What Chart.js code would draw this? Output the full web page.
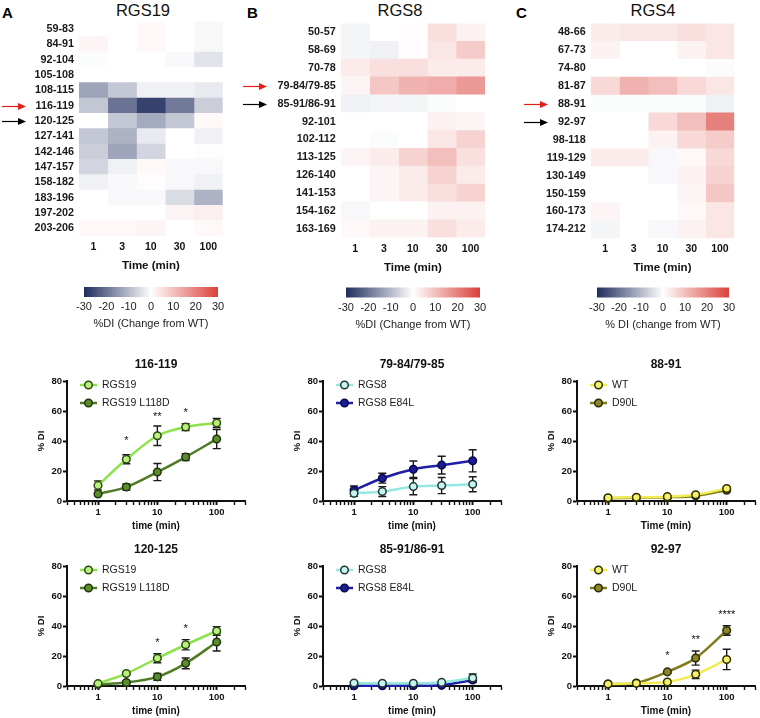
<!DOCTYPE html>
<html>
<head>
<meta charset="utf-8">
<script src="https://cdn.jsdelivr.net/npm/chart.js@4.4.1/dist/chart.umd.min.js"></script>
<style>
  body { margin: 0; background: #fff; width: 760px; height: 718px; position: relative; overflow: hidden;
         font-family: 'Liberation Sans', Arial, Helvetica, sans-serif; }
  canvas { position: absolute; }
  .letter { position: absolute; top: 5px; font: bold 15px/15px 'Liberation Sans', Arial, sans-serif; color: #000; }
  .htitle { position: absolute; top: 2px; width: 100px; text-align: center; font: 16.5px/16px 'Liberation Sans', Arial, sans-serif; color: #111; }
</style>
</head>
<body>
<div class="letter" style="left:2px">A</div>
<div class="letter" style="left:247px">B</div>
<div class="letter" style="left:516px">C</div>
<div class="htitle" style="left:93px">RGS19</div>
<div class="htitle" style="left:350px">RGS8</div>
<div class="htitle" style="left:603px">RGS4</div>

<canvas id="heatA"></canvas>
<canvas id="heatB"></canvas>
<canvas id="heatC"></canvas>
<canvas id="cbA"></canvas>
<canvas id="cbB"></canvas>
<canvas id="cbC"></canvas>
<canvas id="lineA1"></canvas>
<canvas id="lineB1"></canvas>
<canvas id="lineC1"></canvas>
<canvas id="lineA2"></canvas>
<canvas id="lineB2"></canvas>
<canvas id="lineC2"></canvas>

<script>
// ---- heatmap data (%DI change from WT), columns = time points ----
const timeLabels = ['1', '3', '10', '30', '100'];
const times = [1, 3, 10, 30, 100];

const rgs19Rows = ['59-83', '84-91', '92-104', '105-108', '108-115', '116-119', '120-125',
                   '127-141', '142-146', '147-157', '158-182', '183-196', '197-202', '203-206'];
const rgs19Heat = [
  [0, 0, 1, 0, -1],
  [1.5, 0, 1, 0, -1],
  [-0.5, 0, 0, -1, -4],
  [0, 0, 0, 0, 0],
  [-13, -8, -2, -2, -3],
  [-8, -20, -27, -19, -7],
  [0, -8, -12, -8, 1],
  [-8, -11, -3, 0, -2],
  [-7, -13, -6, 0, 0.5],
  [-6, -2, 1, -1, -1],
  [-2, -1, 0.5, -1, -2],
  [0, -1, -1, -5, -11],
  [0, 0, 0, 1.5, 2.5],
  [1, 1, 1.5, 0, 1]
];

const rgs8Rows = ['50-57', '58-69', '70-78', '79-84/79-85', '85-91/86-91', '92-101',
                  '102-112', '113-125', '126-140', '141-153', '154-162', '163-169'];
const rgs8Heat = [
  [-1.5, 0, 0.5, 5, 2],
  [-1.5, -2, 0.5, 4, 8],
  [3, 5, 5, 3, 3],
  [1.5, 9, 12, 13, 16],
  [-2, -1.5, -1.5, -0.5, 0],
  [0, 0, 0, 2, 1.5],
  [0, -0.5, 0, 4, 7],
  [1.5, 3, 7, 10, 5],
  [0, 1.5, 3, 7, 3],
  [0, 1.5, 3, 5, 7],
  [-1, 0, 0, 2, 2],
  [1, 2, 2, 5, 3]
];

const rgs4Rows = ['48-66', '67-73', '74-80', '81-87', '88-91', '92-97',
                  '98-118', '119-129', '130-149', '150-159', '160-173', '174-212'];
const rgs4Heat = [
  [3, 4, 4, 5, 4],
  [2, 0, 0, 2, 4],
  [0, 0, 0, 0, -0.5],
  [6, 12, 10, 6, 4],
  [-0.5, -0.5, -0.5, -0.5, -2],
  [0, 0, 6, 10, 20],
  [0, 0, 2, 6, 8],
  [3, 3, -1, 1, 6],
  [0, 0, -1, 2, 7],
  [0, 0, 0, 1.5, 9],
  [1.5, 0, 0, 1, 4],
  [-1.5, 0, -1, 2, 4]
];

const colorbarTicks = [-30, -20, -10, 0, 10, 20, 30];

// ---- time course data (% DI), mean and error per time point ----
const a1Wt = [10.4, 27.8, 43.5, 49.3, 52];
const a1WtErr = [3, 3, 6.5, 2.3, 3];
const a1Mut = [4.7, 9.3, 19.3, 29.3, 41.3];
const a1MutErr = [1, 2, 5.7, 2.3, 6.4];
const a1Stars = [null, '*', '**', '*', null];
const a1StarY = [null, 40, 56, 59, null];

const a2Wt = [1.6, 8.3, 18.5, 27.5, 36.7];
const a2WtErr = [0.8, 1, 3, 3.4, 2.9];
const a2Mut = [1.1, 2.3, 6.1, 15.1, 29.3];
const a2MutErr = [0.5, 1, 2.3, 3.6, 6];
const a2Stars = [null, null, '*', '*', null];
const a2StarY = [null, null, 28.6, 38, null];

const b1Wt = [5.1, 6.3, 9.6, 10.3, 11.2];
const b1WtErr = [2, 3.3, 5.4, 5.4, 5];
const b1Mut = [7.2, 15.2, 21.2, 23.9, 26.8];
const b1MutErr = [2.8, 3.3, 5.5, 5.9, 7.4];

const b2Wt = [2, 1.8, 1.8, 2.4, 5.3];
const b2WtErr = [0, 0, 0, 0, 2.7];
const b2Mut = [0.2, 0.2, 0.3, 0.5, 4];
const b2MutErr = [0, 0, 0, 0, 1.5];

const c1Wt = [2.2, 2.5, 2.9, 4.2, 8.3];
const c1WtErr = [0.5, 0.5, 0.5, 0.6, 0.8];
const c1Mut = [1.8, 2.2, 2.5, 3.4, 7.2];
const c1MutErr = [0.5, 0.5, 0.5, 0.6, 0.8];

const c2Wt = [1.3, 1.8, 2.7, 7.8, 17.7];
const c2WtErr = [0.5, 0.5, 0.5, 2.8, 6.8];
const c2Mut = [1.3, 2, 9.4, 18.6, 37];
const c2MutErr = [0.5, 0.5, 0.8, 4.7, 3.2];
const c2Stars = [null, null, '*', '**', '****'];
const c2StarY = [null, null, 20, 30.7, 47.5];

const majorTimeTicks = [1, 10, 100];

// ---- styling ----
const FONT = "'Liberation Sans', Arial, Helvetica, sans-serif";
Chart.defaults.font.family = FONT;
Chart.defaults.color = '#111';

const NEG_END = [31, 45, 94];
const POS_END = [218, 64, 58];

function heatColor(v) {
  const t = Math.min(Math.abs(v) / 30, 1);
  const end = v < 0 ? NEG_END : POS_END;
  const c = end.map(e => Math.round(255 + (e - 255) * t));
  return `rgb(${c[0]},${c[1]},${c[2]})`;
}

function place(id, left, top, width, height) {
  const c = document.getElementById(id);
  c.width = width;
  c.height = height;
  c.style.left = left + 'px';
  c.style.top = top + 'px';
  return c;
}

// arrows pointing at the rows that are plotted below
const arrowPlugin = {
  id: 'rowArrows',
  afterDraw(chart, args, opts) {
    const { ctx } = chart;
    const ys = chart.scales.y;
    (opts.items || []).forEach(a => {
      const y = Math.round(ys.getPixelForValue(chart.data.labels.indexOf(a.row))) + 0.5;
      const tip = opts.tip;
      ctx.save();
      ctx.strokeStyle = a.color;
      ctx.fillStyle = a.color;
      ctx.lineWidth = 1.2;
      ctx.beginPath();
      ctx.moveTo(tip - 24, y);
      ctx.lineTo(tip - 6, y);
      ctx.stroke();
      ctx.beginPath();
      ctx.moveTo(tip, y);
      ctx.lineTo(tip - 8, y - 3.5);
      ctx.lineTo(tip - 8, y + 3.5);
      ctx.closePath();
      ctx.fill();
      ctx.restore();
    });
  }
};

function makeHeatmap(id, rows, values, g, arrows) {
  const canvas = place(id, g.canvasLeft, 0, g.canvasWidth, 280);
  const yWidth = g.areaLeft - g.canvasLeft;
  const xHeight = 280 - g.areaBottom;
  new Chart(canvas, {
    type: 'bar',
    data: {
      labels: rows,
      datasets: timeLabels.map((t, c) => ({
        label: t,
        data: rows.map(() => 1),
        backgroundColor: values.map(r => heatColor(r[c])),
        borderWidth: 0,
        barPercentage: 1,
        categoryPercentage: 1
      }))
    },
    options: {
      indexAxis: 'y',
      responsive: false,
      animation: false,
      events: [],
      layout: { padding: { top: g.areaTop, right: g.canvasLeft + g.canvasWidth - g.areaRight, bottom: 0, left: 0 } },
      plugins: {
        legend: { display: false },
        tooltip: { enabled: false },
        rowArrows: { tip: g.arrowTip - g.canvasLeft, items: arrows }
      },
      scales: {
        x: {
          type: 'linear', stacked: true, min: 0, max: 5,
          grid: { display: false, drawTicks: false }, border: { display: false },
          afterBuildTicks: s => { s.ticks = timeLabels.map((_, i) => ({ value: i + 0.5 })); },
          afterFit: s => { s.height = xHeight; },
          ticks: {
            padding: g.labelCenter - g.areaBottom - 6.3,
            font: { size: 10.5, weight: 'bold' }, color: '#111',
            callback: (v, i) => timeLabels[i]
          },
          title: {
            display: true, text: 'Time (min)', color: '#111',
            font: { size: 11.5, weight: 'bold' },
            padding: { top: 0, bottom: 280 - g.timeCenter - 6.9 }
          }
        },
        y: {
          stacked: true,
          grid: { display: false, drawTicks: false }, border: { display: false },
          afterFit: s => { s.width = yWidth; },
          ticks: { autoSkip: false, padding: 5, font: { size: 10.8, weight: 'bold' }, color: '#1a1a1a' }
        }
      }
    },
    plugins: [arrowPlugin]
  });
}

const gradientPlugin = {
  id: 'gradientBar',
  beforeDatasetsDraw(chart) {
    const { ctx, chartArea: a } = chart;
    const grad = ctx.createLinearGradient(a.left, 0, a.right, 0);
    grad.addColorStop(0, heatColor(-30));
    grad.addColorStop(0.5, heatColor(0));
    grad.addColorStop(1, heatColor(30));
    ctx.save();
    ctx.fillStyle = grad;
    ctx.fillRect(a.left, a.top, a.right - a.left, a.bottom - a.top);
    ctx.restore();
  }
};

function makeColorbar(id, g, text) {
  const canvas = place(id, g.left - 20, 280, g.right - g.left + 40, 55);
  new Chart(canvas, {
    type: 'scatter',
    data: { datasets: [] },
    options: {
      responsive: false,
      animation: false,
      events: [],
      layout: { padding: { left: 20, right: 20, top: g.top - 280, bottom: 0 } },
      plugins: { legend: { display: false }, tooltip: { enabled: false } },
      scales: {
        x: {
          type: 'linear', min: -30, max: 30,
          grid: { display: false, drawTicks: false }, border: { display: false },
          afterBuildTicks: s => { s.ticks = colorbarTicks.map(v => ({ value: v })); },
          afterFit: s => { s.height = 335 - g.bottom; },
          ticks: { padding: g.labelCenter - g.bottom - 6.6, font: { size: 11 }, color: '#222', autoSkip: false, maxRotation: 0 },
          title: { display: true, text: text, color: '#222', font: { size: 11 }, padding: { top: 0, bottom: 335 - g.textCenter - 6.6 } }
        },
        y: { display: false, min: 0, max: 1 }
      }
    },
    plugins: [gradientPlugin]
  });
}

// error bars drawn behind the markers
const errorBarPlugin = {
  id: 'errorBars',
  beforeDatasetsDraw(chart) {
    const { ctx, scales: { x, y } } = chart;
    chart.data.datasets.forEach(ds => {
      ds.data.forEach((p, i) => {
        const e = ds.errors[i];
        if (!e) return;
        const px = x.getPixelForValue(p.x);
        const top = y.getPixelForValue(p.y + e);
        const bot = y.getPixelForValue(Math.max(p.y - e, 0));
        ctx.save();
        ctx.strokeStyle = '#1a1a1a';
        ctx.lineWidth = 1.4;
        ctx.beginPath();
        ctx.moveTo(px, top); ctx.lineTo(px, bot);
        ctx.moveTo(px - 4, top); ctx.lineTo(px + 4, top);
        ctx.moveTo(px - 4, bot); ctx.lineTo(px + 4, bot);
        ctx.stroke();
        ctx.restore();
      });
    });
  }
};

const starPlugin = {
  id: 'stars',
  afterDatasetsDraw(chart, args, opts) {
    if (!opts.text) return;
    const { ctx, scales: { x, y } } = chart;
    ctx.save();
    ctx.fillStyle = '#111';
    ctx.font = '11px ' + FONT;
    ctx.textAlign = 'center';
    ctx.textBaseline = 'middle';
    opts.text.forEach((s, i) => {
      if (!s) return;
      ctx.fillText(s, x.getPixelForValue(times[i]), y.getPixelForValue(opts.y[i]));
    });
    ctx.restore();
  }
};

const insetLegend = {
  id: 'insetLegend',
  afterDatasetsDraw(chart) {
    const { ctx, chartArea } = chart;
    chart.data.datasets.forEach((ds, i) => {
      const y = chartArea.top + 4 + i * 18;
      const x0 = chartArea.left + 13;
      ctx.save();
      ctx.strokeStyle = ds.borderColor;
      ctx.lineWidth = 2.5;
      ctx.beginPath(); ctx.moveTo(x0, y); ctx.lineTo(x0 + 17, y); ctx.stroke();
      ctx.beginPath(); ctx.arc(x0 + 8.5, y, 3.8, 0, Math.PI * 2);
      ctx.fillStyle = ds.pointBackgroundColor; ctx.fill();
      ctx.lineWidth = 1.5; ctx.strokeStyle = ds.pointBorderColor; ctx.stroke();
      ctx.fillStyle = '#1a1a1a';
      ctx.font = '10.5px ' + FONT;
      ctx.textBaseline = 'middle';
      ctx.fillText(ds.label, x0 + 22, y + 0.5);
      ctx.restore();
    });
  }
};

const logTicks = [];
[0.1, 1, 10, 100].forEach(d => {
  for (let k = 1; k < 10; k++) {
    const v = Number((k * d).toPrecision(2));
    if (v >= 0.3 && v <= 300) logTicks.push(v);
  }
});

function series(label, values, errors, line, fill, edge) {
  return {
    label, errors,
    data: times.map((t, i) => ({ x: t, y: values[i] })),
    borderColor: line, borderWidth: 2.5,
    pointBackgroundColor: fill, pointBorderColor: edge,
    pointRadius: 3.8, pointBorderWidth: 1.5,
    tension: 0.3, clip: false
  };
}

function makeLine(id, areaLeft, areaTop, title, xTitle, datasets, stars, starY) {
  const canvasLeft = Math.floor(areaLeft - 67);
  const canvas = place(id, canvasLeft, areaTop - 27, 253, 181);
  new Chart(canvas, {
    type: 'line',
    data: { datasets },
    options: {
      responsive: false,
      animation: false,
      events: [],
      layout: { padding: { top: 0, right: 8, bottom: 0, left: 0 } },
      plugins: {
        legend: { display: false },
        tooltip: { enabled: false },
        title: {
          display: true, text: title, fullSize: false, color: '#111',
          font: { size: 12, weight: 'bold' }, padding: { top: 3, bottom: 9.6 }
        },
        stars: { text: stars, y: starY }
      },
      scales: {
        x: {
          type: 'logarithmic', min: 0.3, max: 300,
          afterBuildTicks: s => { s.ticks = logTicks.map(v => ({ value: v, major: majorTimeTicks.includes(v) })); },
          afterFit: s => { s.height = 34; },
          ticks: {
            autoSkip: false, maxRotation: 0, padding: 1.8, color: '#111',
            font: { size: 9.5, weight: 'bold' },
            callback: v => majorTimeTicks.includes(v) ? String(v) : ''
          },
          grid: {
            drawOnChartArea: false, tickLength: 4, tickColor: '#111',
            tickWidth: c => (c.tick && c.tick.major ? 2 : 1.4)
          },
          border: { color: '#111', width: 2 },
          title: { display: true, text: xTitle, color: '#111', font: { size: 10, weight: 'bold' }, padding: { top: 0, bottom: 2.3 } }
        },
        y: {
          min: 0, max: 80,
          afterFit: s => { s.width = 67; },
          ticks: { stepSize: 20, padding: 1, color: '#111', font: { size: 9.5, weight: 'bold' } },
          grid: { drawOnChartArea: false, tickLength: 4, tickColor: '#111', tickWidth: 2 },
          border: { color: '#111', width: 2 },
          title: { display: true, text: '% DI', color: '#111', font: { size: 9.5, weight: 'bold' }, padding: { top: 36, bottom: 0 } }
        }
      }
    },
    plugins: [errorBarPlugin, starPlugin, insetLegend]
  });
}

// ---- heatmaps ----
makeHeatmap('heatA', rgs19Rows, rgs19Heat,
  { canvasLeft: 0, canvasWidth: 250, areaLeft: 79, areaRight: 222.7, areaTop: 21.3, areaBottom: 236,
    labelCenter: 247, timeCenter: 266, arrowTip: 26 },
  [{ row: '116-119', color: '#e0201b' }, { row: '120-125', color: '#000' }]);
makeHeatmap('heatB', rgs8Rows, rgs8Heat,
  { canvasLeft: 240, canvasWidth: 270, areaLeft: 340.7, areaRight: 485, areaTop: 23.4, areaBottom: 237.6,
    labelCenter: 249, timeCenter: 268, arrowTip: 267 },
  [{ row: '79-84/79-85', color: '#e0201b' }, { row: '85-91/86-91', color: '#000' }]);
makeHeatmap('heatC', rgs4Rows, rgs4Heat,
  { canvasLeft: 505, canvasWidth: 255, areaLeft: 590.7, areaRight: 734.3, areaTop: 23.4, areaBottom: 238.3,
    labelCenter: 249.5, timeCenter: 268, arrowTip: 548 },
  [{ row: '88-91', color: '#e0201b' }, { row: '92-97', color: '#000' }]);

makeColorbar('cbA', { left: 84, right: 218, top: 287, bottom: 297, labelCenter: 307, textCenter: 324 }, '%DI (Change from WT)');
makeColorbar('cbB', { left: 346, right: 480, top: 287.5, bottom: 297.5, labelCenter: 308, textCenter: 325 }, '%DI (Change from WT)');
makeColorbar('cbC', { left: 597, right: 729, top: 287.5, bottom: 297.5, labelCenter: 308, textCenter: 325 }, '% DI (change from WT)');

// ---- time courses ----
const GREEN_L = ['#8ee24c', '#b8f27c', '#2c4a12'];
const GREEN_D = ['#4e7c25', '#5c8d2d', '#20360c'];
const CYAN = ['#95e8e0', '#c9f5ee', '#1c3838'];
const NAVY = ['#1e1ea6', '#1b1b94', '#0b0b4c'];
const YELLOW = ['#f2ec52', '#f6f26a', '#2e2e00'];
const OLIVE = ['#7e7c1b', '#8a8826', '#2a2a06'];

makeLine('lineA1', 67, 381, '116-119', 'time (min)', [
  series('RGS19', a1Wt, a1WtErr, ...GREEN_L),
  series('RGS19 L118D', a1Mut, a1MutErr, ...GREEN_D)
], a1Stars, a1StarY);
makeLine('lineB1', 323, 381, '79-84/79-85', 'time (min)', [
  series('RGS8', b1Wt, b1WtErr, ...CYAN),
  series('RGS8 E84L', b1Mut, b1MutErr, ...NAVY)
]);
makeLine('lineC1', 577, 381, '88-91', 'Time (min)', [
  series('WT', c1Wt, c1WtErr, ...YELLOW),
  series('D90L', c1Mut, c1MutErr, ...OLIVE)
]);
makeLine('lineA2', 67, 566, '120-125', 'time (min)', [
  series('RGS19', a2Wt, a2WtErr, ...GREEN_L),
  series('RGS19 L118D', a2Mut, a2MutErr, ...GREEN_D)
], a2Stars, a2StarY);
makeLine('lineB2', 323, 566, '85-91/86-91', 'time (min)', [
  series('RGS8', b2Wt, b2WtErr, ...CYAN),
  series('RGS8 E84L', b2Mut, b2MutErr, ...NAVY)
]);
makeLine('lineC2', 577, 566, '92-97', 'Time (min)', [
  series('WT', c2Wt, c2WtErr, ...YELLOW),
  series('D90L', c2Mut, c2MutErr, ...OLIVE)
], c2Stars, c2StarY);
</script>
</body>
</html>
